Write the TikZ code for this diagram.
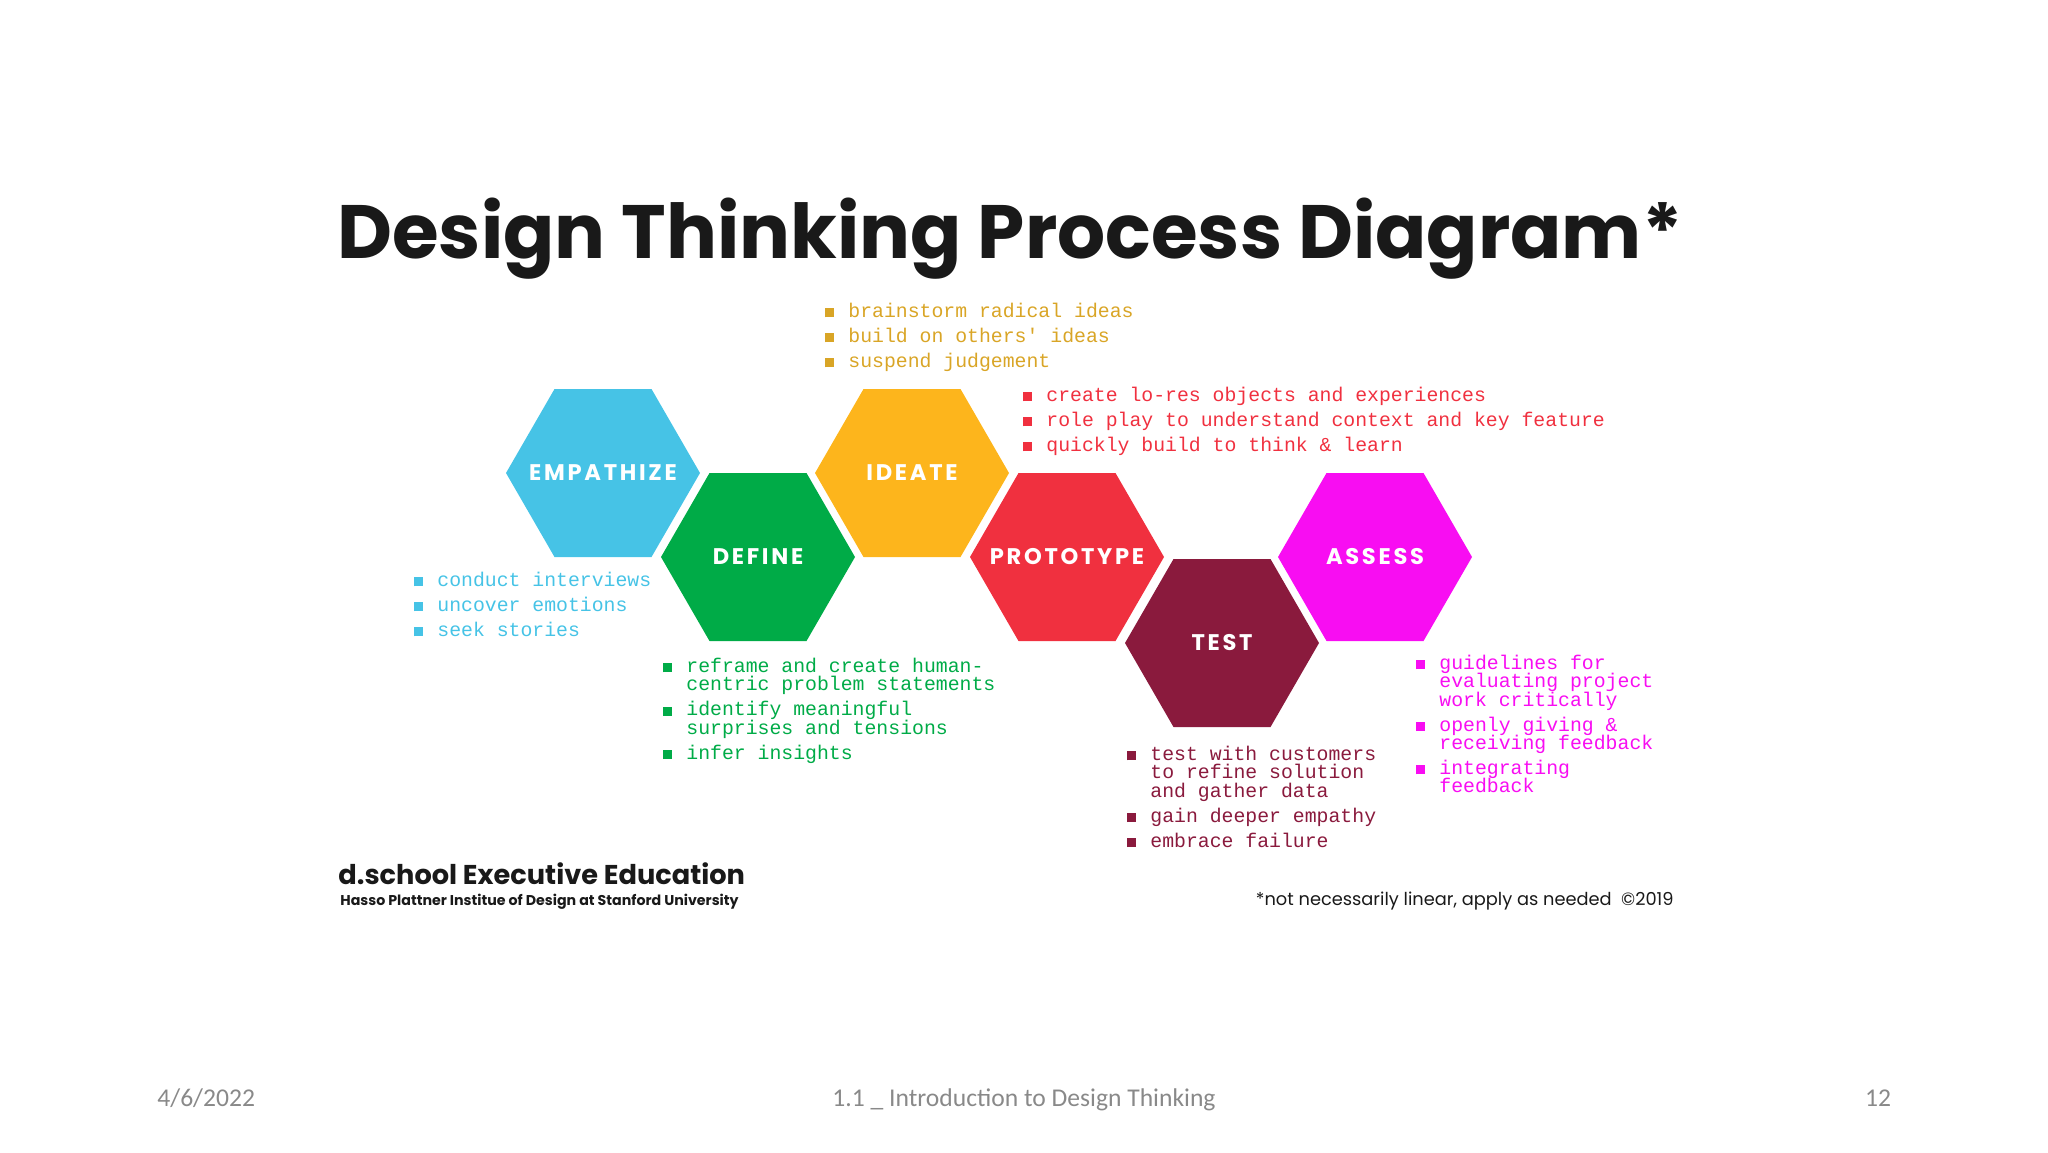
\documentclass[tikz,border=0pt]{standalone}
\usepackage{xcolor}
\usepackage{fontspec}
\usepackage{tikz}
\usetikzlibrary{shapes}
\setmainfont{Poppins}
\newfontfamily\hexfont{Poppins}[LetterSpace=12]
\newfontfamily\monofont{Liberation Mono}
\newfontfamily\footfont{Carlito}
\definecolor{empblue}{HTML}{46C3E6}
\definecolor{defgreen}{HTML}{00AB47}
\definecolor{ideagold}{HTML}{FDB51C}
\definecolor{ideatext}{HTML}{D9A526}
\definecolor{protored}{HTML}{F0303F}
\definecolor{testred}{HTML}{8A1A3D}
\definecolor{assesspink}{HTML}{F80DF2}
\definecolor{footgray}{HTML}{898989}
\newcommand{\sq}{\makebox[11.75pt][l]{\rule{4.5pt}{4.5pt}}}
\newcommand{\ind}{\hspace*{11.75pt}}
\newcommand{\lead}{\rule{0pt}{8pt}}
\setlength{\lineskiplimit}{-10pt}

\begin{document}
\begin{tikzpicture}[x=0.5pt,y=-0.5pt,
	hexa/.style={regular polygon,regular polygon sides=6,minimum size=97pt,inner sep=0pt,fill=#1},
	hexname/.style={inner sep=0pt,text=white,font=\hexfont\bfseries\fontsize{11.3pt}{12pt}\selectfont},
	notes/.style={anchor=north west,inner sep=0pt,align=left,text=#1,font=\monofont\fontsize{9.9pt}{9.15pt}\selectfont}]
	\useasboundingbox (0,0) rectangle (2048,1152);
	\node[anchor=base west,inner sep=0pt,text=black!90,font=\bfseries\fontsize{37.8pt}{40pt}\selectfont] (title) at (337,258) {Design Thinking Process Diagram*};

	\node[hexa=empblue,label={[hexname]center:EMPATHIZE}] (empathize) at (603,473) {};
	\node[hexa=defgreen,label={[hexname]center:DEFINE}] (define) at (758,557) {};
	\node[hexa=ideagold,label={[hexname]center:IDEATE}] (ideate) at (912,473) {};
	\node[hexa=protored,label={[hexname]center:PROTOTYPE}] (prototype) at (1067,557) {};
	\node[hexa=testred,label={[hexname]center:TEST}] (test) at (1222,643) {};
	\node[hexa=assesspink,label={[hexname]center:ASSESS}] (assess) at (1375,557) {};

	\node[notes=empblue] (empnotes) at (413.5,570) {\lead\sq conduct interviews\\[3.35pt]\sq uncover emotions\\[3.35pt]\sq seek stories};
	\node[notes=ideatext] (ideanotes) at (824.5,301) {\lead\sq brainstorm radical ideas\\[3.35pt]\sq build on others' ideas\\[3.35pt]\sq suspend judgement};
	\node[notes=protored] (protonotes) at (1022.5,385) {\lead\sq create lo-res objects and experiences\\[3.35pt]\sq role play to understand context and key feature\\[3.35pt]\sq quickly build to think \& learn};
	\node[notes=defgreen] (defnotes) at (662.5,656) {\lead\sq reframe and create human-\\\ind centric problem statements\\[3.35pt]\sq identify meaningful\\\ind surprises and tensions\\[3.35pt]\sq infer insights};
	\node[notes=testred] (testnotes) at (1126.5,744) {\lead\sq test with customers\\\ind to refine solution\\\ind and gather data\\[3.35pt]\sq gain deeper empathy\\[3.35pt]\sq embrace failure};
	\node[notes=assesspink] (assessnotes) at (1415.5,653) {\lead\sq guidelines for\\\ind evaluating project\\\ind work critically\\[3.35pt]\sq openly giving \&\\\ind receiving feedback\\[3.35pt]\sq integrating\\\ind feedback};

	\node[anchor=base west,inner sep=0pt,text=black!90,font=\bfseries\fontsize{13.6pt}{15pt}\selectfont] (dschool) at (338,884) {d.school Executive Education};
	\node[anchor=base west,inner sep=0pt,text=black!90,font=\bfseries\fontsize{7.1pt}{8pt}\selectfont] (hasso) at (340,905) {Hasso Plattner Institue of Design at Stanford University};
	\node[anchor=base east,inner sep=0pt,text=black!90,font=\fontsize{8.9pt}{10pt}\selectfont] (remark) at (1674,905) {*not necessarily linear, apply as needed\ \ \textcopyright2019};

	\node[anchor=base west,inner sep=0pt,text=footgray,font=\footfont\fontsize{12.8pt}{14pt}\selectfont] (date) at (157,1106) {4/6/2022};
	\node[anchor=base,inner sep=0pt,text=footgray,font=\footfont\fontsize{12.8pt}{14pt}\selectfont] (course) at (1024,1106) {1.1 \_ Introduction to Design Thinking};
	\node[anchor=base,inner sep=0pt,text=footgray,font=\footfont\fontsize{12.8pt}{14pt}\selectfont] (page) at (1878,1106) {12};
\end{tikzpicture}
\end{document}
